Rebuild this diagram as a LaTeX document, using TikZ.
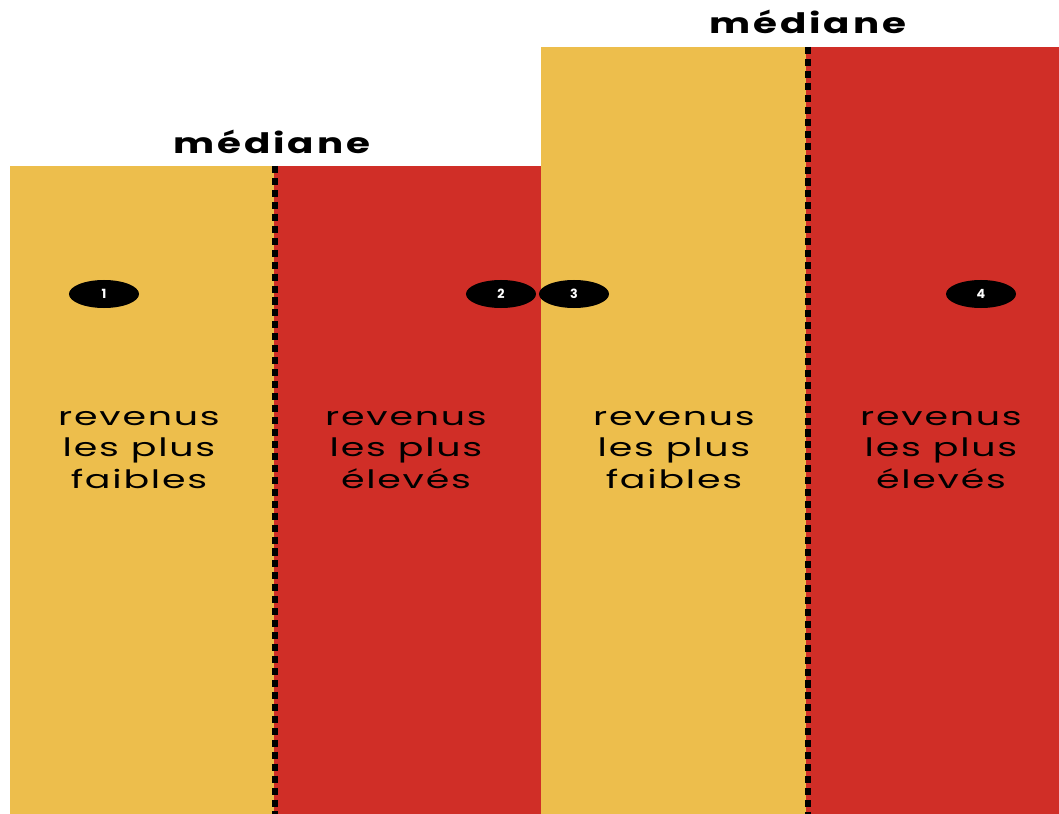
\documentclass[tikz,border=0pt]{standalone}
\usepackage{fontspec}
\setmainfont{Poppins}
\newfontfamily\titrefont{Poppins}[FakeStretch=1.38, LetterSpace=10]
\newfontfamily\corpsfont{Poppins}[FakeStretch=1.5, LetterSpace=7]
\usetikzlibrary{shapes.geometric}
\definecolor{jaune}{HTML}{EDBE4C}
\definecolor{rouge}{HTML}{D02E27}
\tikzset{
  pastille/.style={ellipse, fill=black, minimum width=1.75cm, minimum height=0.7cm,
    inner sep=0pt, text=white, font=\bfseries\fontsize{9}{10}\selectfont},
  libelle/.style={align=center, font=\corpsfont\fontsize{18}{22.7}\selectfont},
  titre/.style={font=\titrefont\bfseries\fontsize{20}{24}\selectfont},
  mediane/.style={black, line width=4pt, dash pattern=on 5pt off 3.5pt}
}
\begin{document}
\begin{tikzpicture}[x=0.025cm,y=-0.025cm]
                \useasboundingbox (0,0) rectangle (1059,814);
                \fill[jaune] (10,166) rectangle (274,814);
                \fill[rouge] (274,166) rectangle (541,814);
                \fill[jaune] (541,47) rectangle (806,814);
                \fill[rouge] (806,47) rectangle (1059,814);
                \draw[mediane] (275,166) -- (275,814);
                \draw[mediane] (808,47) -- (808,814);
                \node[titre] (med1) at (272,142) {médiane};
                \node[titre] (med2) at (808,22) {médiane};
                \node[pastille] (p1) at (104,294) {1};
                \node[pastille] (p2) at (501,294) {2};
                \node[pastille] (p3) at (574,294) {3};
                \node[pastille] (p4) at (981,294) {4};
                \node[libelle] (bas1) at (139,450) {revenus\\les plus\\faibles};
                \node[libelle] (haut1) at (406,450) {revenus\\les plus\\élevés};
                \node[libelle] (bas2) at (674,450) {revenus\\les plus\\faibles};
                \node[libelle] (haut2) at (941,450) {revenus\\les plus\\élevés};
            \end{tikzpicture}
\end{document}
